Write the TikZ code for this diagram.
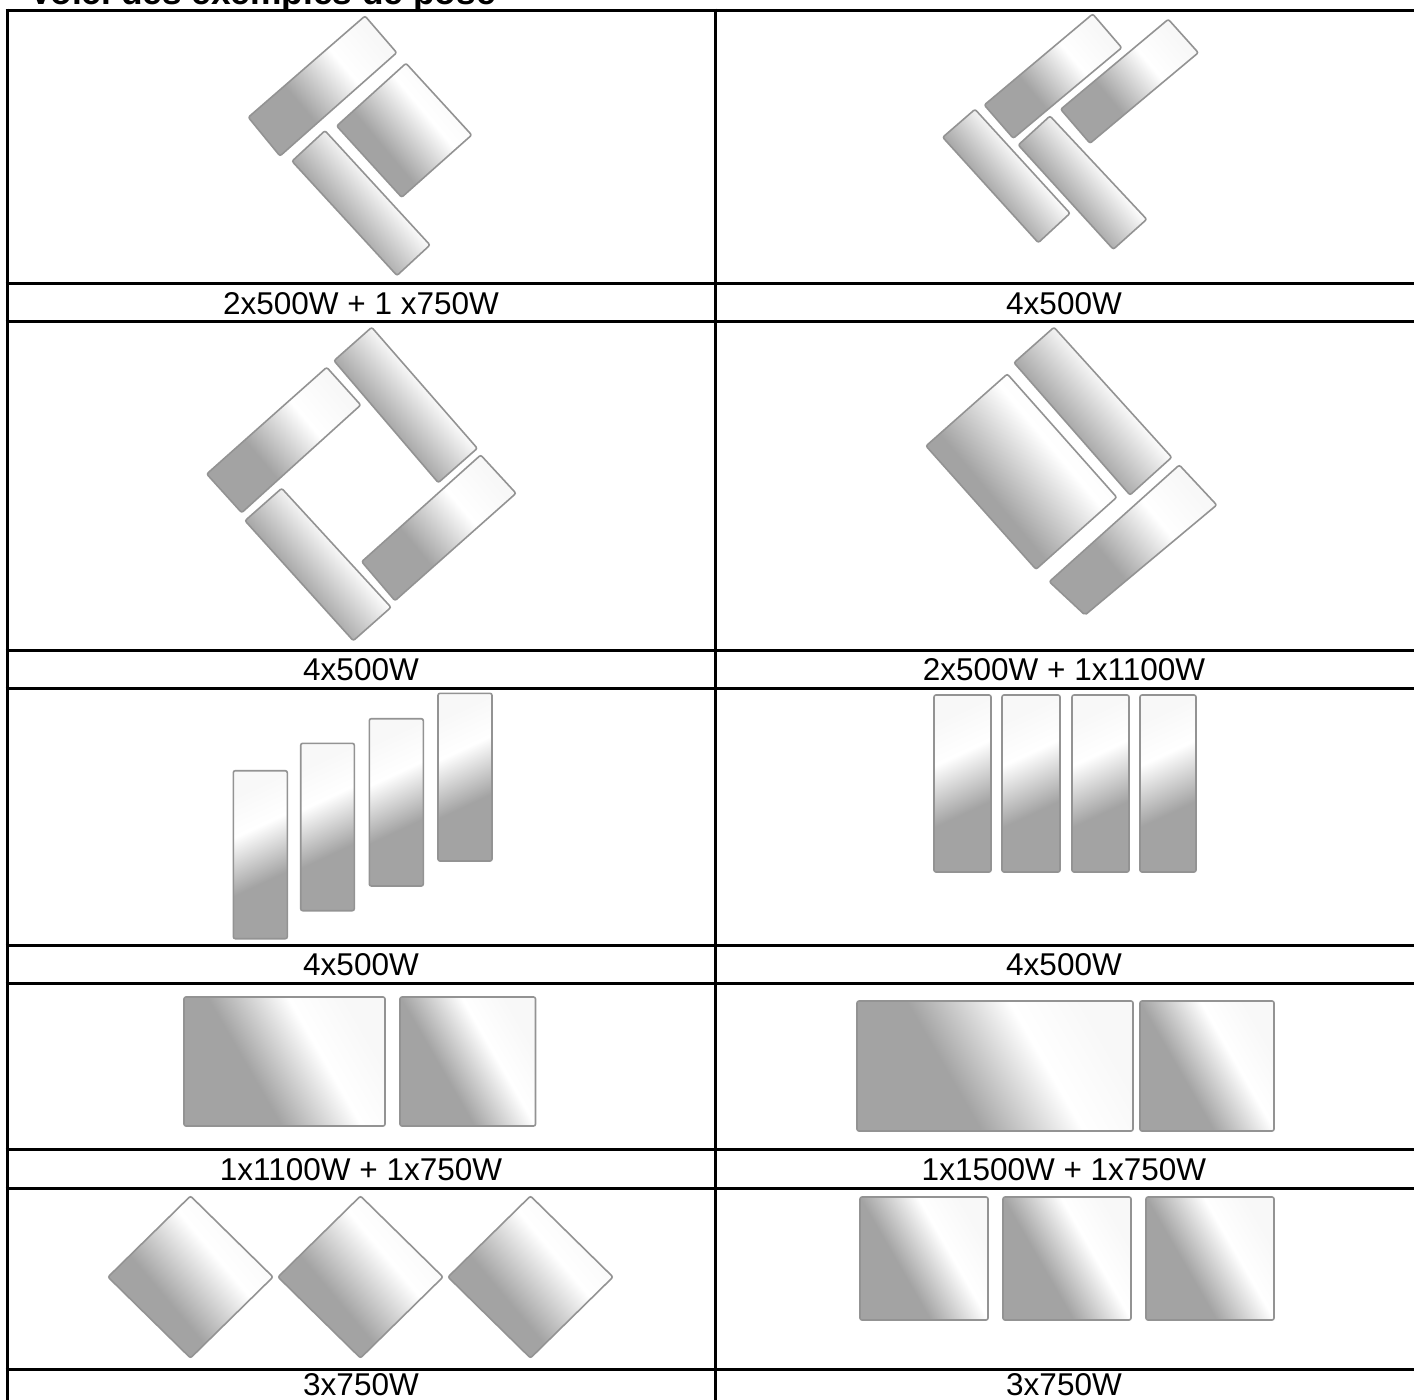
\documentclass[tikz,border=0pt]{standalone}
\usepackage{fontspec}
\setmainfont{Liberation Sans}
\definecolor{gris}{HTML}{A3A3A3}
\definecolor{bord}{HTML}{939393}
\pgfdeclarehorizontalshading{miroir}{100bp}{color(0bp)=(gris); color(25bp)=(gris); color(40bp)=(gris); color(60bp)=(white); color(75bp)=(white!92!gris); color(100bp)=(white!92!gris)}
\tikzset{
	panneau/.style={draw=bord, line width=1.6pt, rounded corners=2pt, shading=miroir, shading angle=#1},
	panneau/.default=40,
	trait/.style={line width=3pt},
	legende/.style={anchor=base, inner sep=0pt, font=\fontsize{31.5}{36}\selectfont},
	titre/.style={anchor=base west, font=\fontsize{35.3}{40}\selectfont\bfseries}
}
\begin{document}
\begin{tikzpicture}[x=1pt, y=-1pt]
	\useasboundingbox (0,0) rectangle (1414,1400);
	
	\node[titre] (titre) at (26,5){Voici des exemples de pose};
	
	\draw[trait] (5.5,10) -- (1414,10);
	\draw[trait] (5.5,283.7) -- (1414,283.7);
	\draw[trait] (5.5,321.7) -- (1414,321.7);
	\draw[trait] (5.5,650) -- (1414,650);
	\draw[trait] (5.5,688) -- (1414,688);
	\draw[trait] (5.5,945) -- (1414,945);
	\draw[trait] (5.5,983) -- (1414,983);
	\draw[trait] (5.5,1149) -- (1414,1149);
	\draw[trait] (5.5,1188) -- (1414,1188);
	\draw[trait] (5.5,1369) -- (1414,1369);
	\draw[trait] (7,8.5) -- (7,1400);
	\draw[trait] (715,8.5) -- (715,1400);
	
	\draw[panneau] (365,16) -- (396.7,52.7) -- (280,156) -- (248.3,117.3) -- cycle;
	\draw[panneau] (406,63.3) -- (471.7,135) -- (401.7,197.3) -- (336.7,126) -- cycle;
	\draw[panneau] (325,130.7) -- (430,245) -- (397,275.5) -- (292,161.2) -- cycle;
	
	\draw[panneau] (1092.7,14) -- (1121.7,47.7) -- (1013.3,138.3) -- (984.3,105) -- cycle;
	\draw[panneau] (1168.3,19.3) -- (1198.3,52.7) -- (1090,143.3) -- (1060.7,109.3) -- cycle;
	\draw[panneau] (975,109.3) -- (1070,213.3) -- (1038.3,242.7) -- (942.7,137.3) -- cycle;
	\draw[panneau] (1050,116) -- (1146.7,219.3) -- (1113.3,249.3) -- (1018.3,145) -- cycle;
	
	\draw[panneau] (326.7,367.3) -- (360.7,405) -- (241.7,512.7) -- (206.7,474) -- cycle;
	\draw[panneau] (371.7,327.3) -- (477.3,448.3) -- (438.3,482.7) -- (334,360.7) -- cycle;
	\draw[panneau] (281.7,488.3) -- (391,607.3) -- (353.3,640.7) -- (245,520.7) -- cycle;
	\draw[panneau] (480.7,455) -- (516,493.3) -- (395,600.7) -- (361.7,561.7) -- cycle;
	
	\draw[panneau] (1007.3,374) -- (1116.7,497.3) -- (1036,569.3) -- (926,446) -- cycle;
	\draw[panneau] (1054,327.3) -- (1171.7,457.3) -- (1130,495) -- (1014,362.7) -- cycle;
	\draw[panneau] (1179.3,465) -- (1216.7,505) -- (1085,615) -- (1049.3,581.7) -- cycle;
	
	\draw[panneau=115] (233.3,770.7) rectangle (287.3,938.7);
	\draw[panneau=115] (300.7,743.3) rectangle (354.3,910.7);
	\draw[panneau=115] (369.3,718.7) rectangle (423.3,886);
	\draw[panneau=115] (438,693.3) rectangle (492,861);
	
	\draw[panneau=115] (934,695) rectangle (991,872);
	\draw[panneau=115] (1002,695) rectangle (1060,872);
	\draw[panneau=115] (1072,695) rectangle (1129,872);
	\draw[panneau=115] (1140,695) rectangle (1196,872);
	
	\draw[panneau=30] (184,997) rectangle (385,1126);
	\draw[panneau=30] (400,997) rectangle (535.5,1126);
	
	\draw[panneau=30] (857,1001) rectangle (1133,1131);
	\draw[panneau=30] (1140,1001) rectangle (1274,1131);
	
	\draw[panneau] (190.5,1196) -- (273,1277) -- (190.5,1358) -- (108,1277) -- cycle;
	\draw[panneau] (360.5,1196) -- (443,1277) -- (360.5,1358) -- (278,1277) -- cycle;
	\draw[panneau] (530.5,1196) -- (613,1277) -- (530.5,1358) -- (448,1277) -- cycle;
	
	\draw[panneau=30] (860,1197) rectangle (988,1320);
	\draw[panneau=30] (1003,1197) rectangle (1131,1320);
	\draw[panneau=30] (1146,1197) rectangle (1274,1320);
	
	\node[legende] (l1g) at (361,314){2x500W + 1 x750W};
	\node[legende] (l1d) at (1064,314){4x500W};
	\node[legende] (l2g) at (361,680.5){4x500W};
	\node[legende] (l2d) at (1064,680.5){2x500W + 1x1100W};
	\node[legende] (l3g) at (361,975.5){4x500W};
	\node[legende] (l3d) at (1064,975.5){4x500W};
	\node[legende] (l4g) at (361,1180){1x1100W + 1x750W};
	\node[legende] (l4d) at (1064,1180){1x1500W + 1x750W};
	\node[legende] (l5g) at (361,1395.5){3x750W};
	\node[legende] (l5d) at (1064,1395.5){3x750W};
\end{tikzpicture}
\end{document}
